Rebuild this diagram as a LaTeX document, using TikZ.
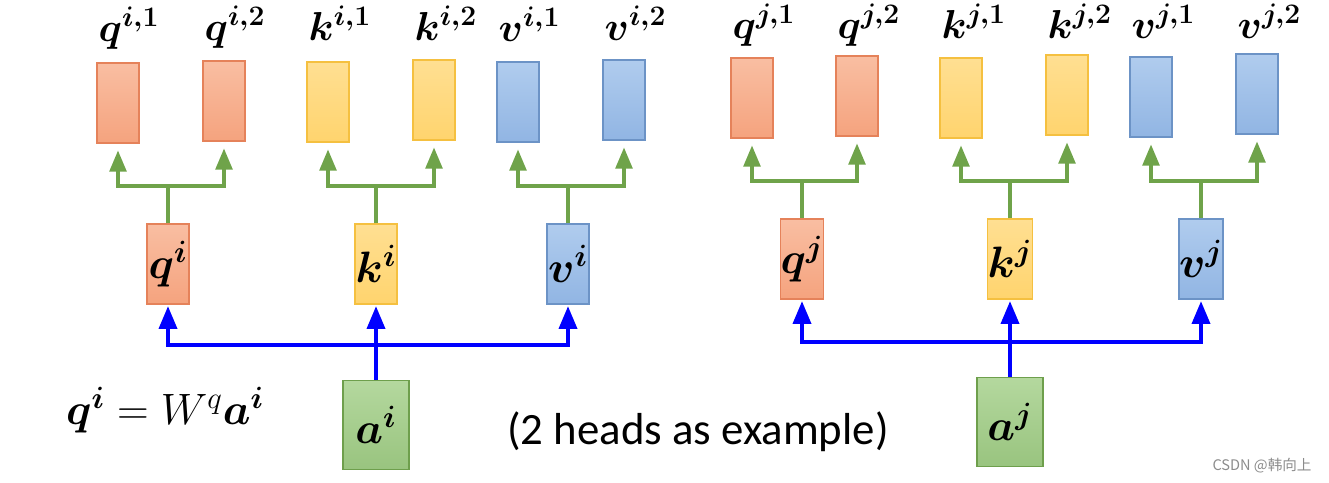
\documentclass[tikz,border=0pt]{standalone}
\usepackage{fix-cm}
\usepackage{amsmath}
\usepackage{bm}
\usepackage{fontspec}
\newfontfamily\carlito{Carlito}
\newfontfamily\cjk{Noto Sans CJK SC}
\usetikzlibrary{arrows,calc}
\usepackage{xcolor}

\definecolor{qtop}{HTML}{F9BEA2}
\definecolor{qbot}{HTML}{F5A37E}
\definecolor{qline}{HTML}{E5825A}
\definecolor{ktop}{HTML}{FFDF92}
\definecolor{kbot}{HTML}{FFD46E}
\definecolor{kline}{HTML}{F5C040}
\definecolor{vtop}{HTML}{B0CCEE}
\definecolor{vbot}{HTML}{91B5E3}
\definecolor{vline}{HTML}{6C93C6}
\definecolor{atop}{HTML}{B4D89E}
\definecolor{abot}{HTML}{99C47F}
\definecolor{aline}{HTML}{6E9F4C}
\definecolor{splitgreen}{HTML}{6FA34A}

\begin{document}
\begin{tikzpicture}[x=0.02cm,y=-0.02cm,>=triangle 45,
  vec/.style={draw,line width=0.8pt,minimum width=0.84cm,minimum height=1.6cm,inner sep=0pt,font=\fontsize{25}{29}\selectfont},
  qvec/.style={vec,top color=qtop,bottom color=qbot,draw=qline},
  kvec/.style={vec,top color=ktop,bottom color=kbot,draw=kline},
  vvec/.style={vec,top color=vtop,bottom color=vbot,draw=vline},
  avec/.style={vec,top color=atop,bottom color=abot,draw=aline,minimum width=1.32cm,minimum height=1.78cm},
  headlbl/.style={anchor=base west,inner sep=0pt,font=\fontsize{23}{27}\selectfont},
  feed/.style={draw=splitgreen,line width=1.8pt},
  proj/.style={draw=blue,line width=2pt}]
\useasboundingbox (0,0) rectangle (1329,483);

% heads of token i and token j
\foreach \name/\style/\x/\y/\lbl/\dy in {
  qi1/qvec/118/103/{\bm{q}^{\bm{i,1}}}/-21, qi2/qvec/224/101/{\bm{q}^{\bm{i,2}}}/-20,
  ki1/kvec/328/102/{\bm{k}^{\bm{i,1}}}/-21, ki2/kvec/434/100/{\bm{k}^{\bm{i,2}}}/-19,
  vi1/vvec/518/102/{\bm{v}^{\bm{i,1}}}/-20, vi2/vvec/624/100/{\bm{v}^{\bm{i,2}}}/-19,
  qj1/qvec/752/98/{\bm{q}^{\bm{j,1}}}/-19, qj2/qvec/857/96/{\bm{q}^{\bm{j,2}}}/-17,
  kj1/kvec/961/98/{\bm{k}^{\bm{j,1}}}/-19, kj2/kvec/1067/95/{\bm{k}^{\bm{j,2}}}/-16,
  vj1/vvec/1151/97/{\bm{v}^{\bm{j,1}}}/-18, vj2/vvec/1257/94/{\bm{v}^{\bm{j,2}}}/-15}
{
  \node[\style] (\name) at (\x,\y) {};
  \node[headlbl] (l\name) at ($(\name.north west)+(2,\dy)$) {$\lbl$};
}

% q k v of each token
\node[qvec] (qi) at (168,264) {$\bm{q}^{\bm{i}}$};
\node[kvec] (ki) at (376,264) {$\bm{k}^{\bm{i}}$};
\node[vvec] (vi) at (568,264) {$\bm{v}^{\bm{i}}$};
\node[qvec] (qj) at (802,259) {$\bm{q}^{\bm{j}}$};
\node[kvec] (kj) at (1010,259) {$\bm{k}^{\bm{j}}$};
\node[vvec] (vj) at (1201,259) {$\bm{v}^{\bm{j}}$};

\node[avec] (ai) at (376,425) {$\bm{a}^{\bm{i}}$};
\node[avec] (aj) at (1010,422) {$\bm{a}^{\bm{j}}$};

\coordinate (gi) at (0,186);
\coordinate (gj) at (0,181);
\coordinate (bi) at (0,345);
\coordinate (bj) at (0,342);

% split into 2 heads
\foreach \m/\a/\b/\g in {qi/qi1/qi2/gi, ki/ki1/ki2/gi, vi/vi1/vi2/gi,
                         qj/qj1/qj2/gj, kj/kj1/kj2/gj, vj/vj1/vj2/gj}
{
  \draw[feed] (\m.north) -- (\m.north |- \g);
  \draw[feed,<->,shorten <=4pt,shorten >=4pt] (\a.south) -- (\a.south |- \g) -- (\b.south |- \g) -- (\b.south);
}

% projections
\draw[proj,->,shorten >=1pt] (ai.north) -- (ki.south);
\draw[proj,<->,shorten <=1pt,shorten >=1pt] (qi.south) -- (qi.south |- bi) -- (vi.south |- bi) -- (vi.south);
\draw[proj,->,shorten >=1pt] (aj.north) -- (kj.south);
\draw[proj,<->,shorten <=1pt,shorten >=1pt] (qj.south) -- (qj.south |- bj) -- (vj.south |- bj) -- (vj.south);

\node[font=\fontsize{25}{29}\selectfont] (eq) at (165,410) {$\bm{q}^{\bm{i}} = W^{q}\bm{a}^{\bm{i}}$};
\node[font=\carlito\fontsize{25.5}{30}\selectfont] (note) at (698,432) {(2 heads as example)};
\node[font=\cjk\fontsize{8.3}{10}\selectfont,text=black!45] (mark) at (1262,466) {CSDN @韩向上};
\end{tikzpicture}
\end{document}
